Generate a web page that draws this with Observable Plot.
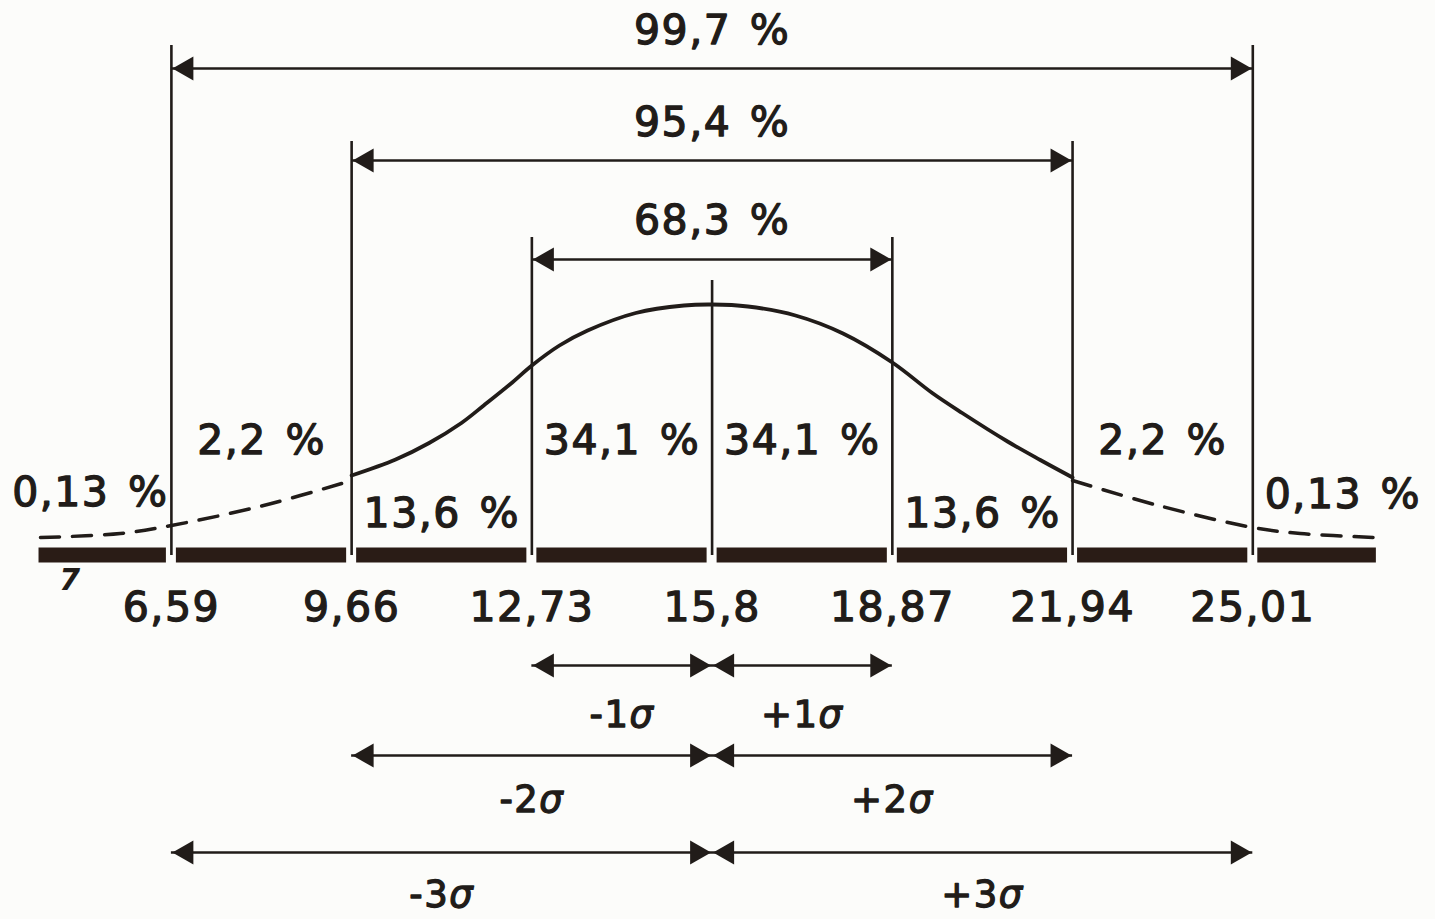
<!DOCTYPE html>
<html>
<head>
<meta charset="utf-8">
<script src="https://cdn.jsdelivr.net/npm/d3@7"></script>
<script src="https://cdn.jsdelivr.net/npm/@observablehq/plot@0.6"></script>
<style>
  html, body { margin: 0; padding: 0; background: #fcfcfa; }
  #chart svg text { letter-spacing: 1.5px; word-spacing: 4px; }
</style>
</head>
<body>
<div id="chart"></div>
<script>
// ---------- data ----------
const mean = 15.8;
const sigma = 3.07;
const tickValues = [6.59, 9.66, 12.73, 15.8, 18.87, 21.94, 25.01];
const tickLabels = ["6,59", "9,66", "12,73", "15,8", "18,87", "21,94", "25,01"];
const spanK = [3, 2, 1];
const spanLabels = ["99,7 %", "95,4 %", "68,3 %"];
const bandLabels = ["0,13 %", "2,2 %", "13,6 %", "34,1 %", "34,1 %", "13,6 %", "2,2 %", "0,13 %"];
const sigmaK = [1, 1, 2, 2, 3, 3];
const sigmaSide = [-1, 1, -1, 1, -1, 1];
const sigmaLabels = ["-1σ", "+1σ", "-2σ", "+2σ", "-3σ", "+3σ"];
// hand-sketched curve: value on the axis, relative height (peak ≈ 100)
const curveX = [9.66, 10.41, 10.98, 11.53, 11.91, 12.36, 12.73, 13.20, 13.68, 14.50, 15.32, 15.8, 16.41, 17.22, 18.03, 18.87, 19.55, 20.06, 20.84, 21.39, 21.94];
const curveY = [32, 38.4, 45, 53, 60, 68.5, 76, 84, 90, 97, 100, 100.4, 99.6, 96, 88.8, 77.2, 65, 57, 45.5, 38.2, 31.2];
const tailLeftX = [4.36, 5.72, 6.59, 8.16, 9.66];
const tailLeftY = [7.2, 8.8, 12, 20, 30];
const tailRightX = [21.94, 23.40, 25.01, 25.82, 27.10];
const tailRightY = [30, 20, 11.2, 8.8, 7.2];
const barStart = 4.25, barEnd = 27.2;
const strayText = ["7"];

// ---------- layout (positions of annotations, in chart units) ----------
const layout = {
  spanRow: {3: 194.8, 2: 158, 1: 118.4},
  spanLabelRow: {3: 210, 2: 173.2, 1: 134},
  lineTop: {3: 204, 2: 165.6, 1: 127.2, 0: 110},
  bandPos: [-3.45, -2.5, -1.5, -0.5, 0.5, 1.5, 2.5, 3.5],
  bandRow: [25.2, 46, 16.8, 46, 46, 16.8, 46, 24.4],
  sigmaRow: {1: -44, 2: -80, 3: -118.8},
  sigmaLabelRow: {1: -64, 2: -98, 3: -136},
  tickLabelRow: -20.8,
  stray: {x: 4.87, y: -10}
};

const ink = "#211c19";
const font = "DejaVu Sans";

// ---------- derived tables ----------
const segments = d3.pairs([barStart, ...tickValues, barEnd]).map(([a, b]) => ({a, b}));
const vlines = tickValues.map(v => ({x: v, top: layout.lineTop[Math.round(Math.abs(v - mean) / sigma)]}));
const curve = curveX.map((x, i) => ({x, y: curveY[i]}));
const tailL = tailLeftX.map((x, i) => ({x, y: tailLeftY[i]}));
const tailR = tailRightX.map((x, i) => ({x, y: tailRightY[i]}));
const spans = spanK.map((k, i) => ({k, lo: mean - k * sigma, hi: mean + k * sigma, label: spanLabels[i], row: layout.spanRow[k], lrow: layout.spanLabelRow[k]}));
const bands = bandLabels.map((t, i) => ({t, x: mean + layout.bandPos[i] * sigma, y: layout.bandRow[i]}));
const sig = sigmaLabels.map((t, i) => ({t, k: sigmaK[i], s: sigmaSide[i], lrow: layout.sigmaLabelRow[sigmaK[i]]}));
const ticks = tickValues.map((v, i) => ({x: v, t: tickLabels[i]}));

// arrow heads (filled triangles whose tips touch the target value)
const headR = 9;
const tip = 2 * Math.sqrt(Math.PI * headR * headR / (3 * Math.sqrt(3)));
const headsRight = [], headsLeft = [];
for (const s of spans) {
  headsLeft.push({x: s.lo, y: s.row});
  headsRight.push({x: s.hi, y: s.row});
}
for (const k of [1, 2, 3]) {
  const row = layout.sigmaRow[k];
  headsLeft.push({x: mean - k * sigma, y: row});
  headsRight.push({x: mean, y: row});
  headsLeft.push({x: mean, y: row});
  headsRight.push({x: mean + k * sigma, y: row});
}

const textStyle = {fill: ink, stroke: ink, strokeWidth: 1.3};

const chart = Plot.plot({
  width: 1435,
  height: 919,
  margin: 0,
  x: {domain: [3.679, 28.122], axis: null},
  y: {domain: [-145.6, 222], axis: null},
  style: {background: "#fcfcfa", fontFamily: font, color: ink},
  marks: [
    // baseline bar
    Plot.rect(segments, {x1: "a", x2: "b", y1: -3, y2: 3, fill: "#2a1c16", insetLeft: 5, insetRight: 5}),
    // vertical sigma lines
    Plot.ruleX(vlines, {x: "x", y1: 0, y2: "top", stroke: ink, strokeWidth: 2.6}),
    // solid curve
    Plot.line(curve, {x: "x", y: "y", curve: "catmull-rom", stroke: ink, strokeWidth: 3.8}),
    // dashed tails
    Plot.line(tailL, {x: "x", y: "y", curve: "catmull-rom", stroke: ink, strokeWidth: 3.5, strokeDasharray: "19,13"}),
    Plot.line(tailR, {x: "x", y: "y", curve: "catmull-rom", stroke: ink, strokeWidth: 3.5, strokeDasharray: "19,13"}),
    // span arrows
    Plot.ruleY(spans, {y: "row", x1: "lo", x2: "hi", stroke: ink, strokeWidth: 2.6}),
    // sigma arrows
    Plot.ruleY([1, 2, 3], {y: k => layout.sigmaRow[k], x1: k => mean - k * sigma, x2: k => mean + k * sigma, stroke: ink, strokeWidth: 2.6}),
    Plot.dot(headsRight, {x: "x", y: "y", symbol: "triangle", r: headR, rotate: 90, fill: ink, stroke: null, dx: -tip - 1}),
    Plot.dot(headsLeft, {x: "x", y: "y", symbol: "triangle", r: headR, rotate: -90, fill: ink, stroke: null, dx: tip + 1}),
    // span percentages
    Plot.text(spans, {x: mean, y: "lrow", text: "label", fontSize: 41, ...textStyle}),
    // band percentages
    Plot.text(bands, {x: "x", y: "y", text: "t", fontSize: 41, ...textStyle}),
    // tick labels
    Plot.text(ticks, {x: "x", y: layout.tickLabelRow, text: "t", fontSize: 41, ...textStyle}),
    // sigma labels
    Plot.text(sig, {x: d => mean + d.s * d.k * 0.5 * sigma, y: "lrow", text: "t", fontSize: 37, ...textStyle}),
    // stray mark under the bar
    Plot.text(strayText, {x: layout.stray.x, y: layout.stray.y, text: d => d, fontSize: 30, fontWeight: "bold", fontStyle: "italic", fill: ink})
  ]
});

// italic sigma glyphs
const NS = "http://www.w3.org/2000/svg";
chart.querySelectorAll("text").forEach(el => {
  const s = el.textContent;
  const i = s.indexOf("σ");
  if (i < 0) return;
  el.textContent = s.slice(0, i);
  const ts = document.createElementNS(NS, "tspan");
  ts.setAttribute("font-style", "italic");
  ts.textContent = "σ";
  el.appendChild(ts);
  if (i + 1 < s.length) el.appendChild(document.createTextNode(s.slice(i + 1)));
});

document.getElementById("chart").appendChild(chart);
</script>
</body>
</html>
